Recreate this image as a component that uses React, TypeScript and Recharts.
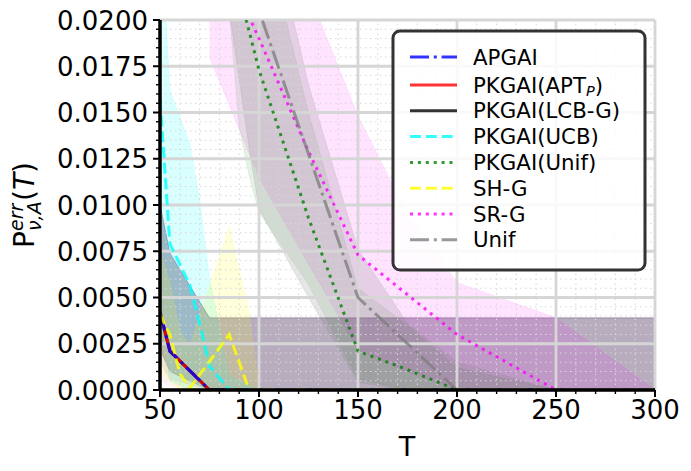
import React from 'react';
import { ComposedChart, Line, Area, XAxis, YAxis, ReferenceLine } from 'recharts';

const FONT = '"DejaVu Sans", Verdana, sans-serif';

// ---------- tick values / labels ----------
const xMajorTicks = [50, 100, 150, 200, 250, 300];
const xMinorTicks = [60, 70, 80, 90, 110, 120, 130, 140, 160, 170, 180, 190, 210, 220, 230, 240, 260, 270, 280, 290];
const yMajorTicks = [0, 0.0025, 0.005, 0.0075, 0.01, 0.0125, 0.015, 0.0175, 0.02];
const yTickLabels = ['0.0000', '0.0025', '0.0050', '0.0075', '0.0100', '0.0125', '0.0150', '0.0175', '0.0200'];
const yMinorTicks = Array.from({ length: 41 }, (_, k) => Number((k * 0.0005).toFixed(4))).filter(
  (v) => !yMajorTicks.some((m) => Math.abs(m - v) < 1e-9)
);

// ---------- series (T, mean, band low, band high) ----------
const apgaiT = [50, 55, 75, 100, 150, 200, 250, 300];
const apgaiMean = [0.0042, 0.0021, 0, 0, 0, 0, 0, 0];
const apgaiLow = [0.0015, 0.0006, 0, 0, 0, 0, 0, 0];
const apgaiHigh = [0.01, 0.0074, 0.0039, 0.0039, 0.0039, 0.0039, 0.0039, 0.0039];

const aptT = [50, 55, 75, 100, 150, 200, 250, 300];
const aptMean = [0.0042, 0.0021, 0, 0, 0, 0, 0, 0];
const aptLow = [0.0005, 0.0002, 0, 0, 0, 0, 0, 0];
const aptHigh = [0.0098, 0.0075, 0.0039, 0.0039, 0.0039, 0.0039, 0.0039, 0.0039];

const lcbT = [50, 55, 75, 100, 150, 200, 250, 300];
const lcbMean = [0.0042, 0.0021, 0, 0, 0, 0, 0, 0];
const lcbLow = [0.0022, 0.001, 0, 0, 0, 0, 0, 0];
const lcbHigh = [0.0101, 0.0074, 0.0039, 0.0039, 0.0039, 0.0039, 0.0039, 0.0039];

const ucbT = [50, 55, 65, 70, 75, 85, 100, 300];
const ucbMean = [0.0157, 0.0079, 0.0057, 0.0036, 0.0013, 0, 0, 0];
const ucbLow = [0.004, 0.0005, 0, 0, 0, 0, 0, 0];
const ucbHigh = [0.026, 0.0162, 0.0133, 0.0103, 0.006, 0.0008, 0, 0];

const pkUnifT = [75, 85, 90, 95, 100, 125, 150, 175, 200, 250, 300];
const pkUnifMean = [0.027, 0.0234, 0.0214, 0.0194, 0.0173, 0.0093, 0.0021, 0.0011, 0, 0, 0];
const pkUnifLow = [0.024, 0.0205, 0.0142, 0.0116, 0.0096, 0.0057, 0.0006, 0, 0, 0, 0];
const pkUnifHigh = [0.032, 0.03, 0.029, 0.028, 0.026, 0.015, 0.0055, 0.0035, 0.0012, 0, 0];

const shgT = [50, 55, 60, 65, 85, 95, 100, 300];
const shgMean = [0.0041, 0.003, 0.0009, 0.0001, 0.003, 0, 0, 0];
const shgLow = [0.001, 0.0005, 0, 0, 0, 0, 0, 0];
const shgHigh = [0.0075, 0.0058, 0.0032, 0.0024, 0.0088, 0.0042, 0, 0];

const srgT = [75, 100, 125, 150, 175, 200, 250, 300];
const srgMean = [0.0249, 0.019, 0.0129, 0.0073, 0.00515, 0.003, 0, 0];
const srgLow = [0.018, 0.0115, 0.0068, 0.0022, 0.001, 0, 0, 0];
const srgHigh = [0.034, 0.028, 0.0215, 0.0148, 0.0095, 0.0058, 0.0039, 0];

const unifT = [75, 85, 95, 100, 125, 150, 175, 200, 250, 300];
const unifMean = [0.028, 0.025, 0.022, 0.0205, 0.01275, 0.005, 0.0025, 0, 0, 0];
const unifLow = [0.026, 0.0205, 0.0131, 0.0098, 0.005, 0.0004, 0, 0, 0, 0];
const unifHigh = [0.04, 0.036, 0.031, 0.028, 0.0165, 0.0076, 0.0036, 0.0015, 0, 0];

const build = (T: number[], mean: number[], lo: number[], hi: number[]) =>
  T.map((t, i) => ({ T: t, mean: mean[i], band: [lo[i], hi[i]] }));

type Series = {
  key: string;
  color: string;
  dash?: string;
  bandOpacity: number;
  data: { T: number; mean: number; band: number[] }[];
};

const DASH = '11 4.8';
const DOT = '3 4.9';
const DASHDOT = '19 4.8 3 4.8';

// draw order (bottom -> top)
const drawOrder: Series[] = [
  { key: 'lcb', color: '#000000', bandOpacity: 0.23, data: build(lcbT, lcbMean, lcbLow, lcbHigh) },
  { key: 'apt', color: '#ff0000', bandOpacity: 0.045, data: build(aptT, aptMean, aptLow, aptHigh) },
  { key: 'apgai', color: '#0000ff', dash: DASHDOT, bandOpacity: 0.07, data: build(apgaiT, apgaiMean, apgaiLow, apgaiHigh) },
  { key: 'ucb', color: '#00ffff', dash: DASH, bandOpacity: 0.15, data: build(ucbT, ucbMean, ucbLow, ucbHigh) },
  { key: 'pkunif', color: '#008000', dash: DOT, bandOpacity: 0.1, data: build(pkUnifT, pkUnifMean, pkUnifLow, pkUnifHigh) },
  { key: 'shg', color: '#ffff00', dash: DASH, bandOpacity: 0.15, data: build(shgT, shgMean, shgLow, shgHigh) },
  { key: 'srg', color: '#ff00ff', dash: DOT, bandOpacity: 0.11, data: build(srgT, srgMean, srgLow, srgHigh) },
  { key: 'unif', color: '#808080', dash: DASHDOT, bandOpacity: 0.2, data: build(unifT, unifMean, unifLow, unifHigh) },
];

const legendItems = [
  { label: 'APGAI', color: '#0000ff', dash: DASHDOT },
  { label: 'PKGAI(APT', sub: 'P', color: '#ff0000', dash: undefined },
  { label: 'PKGAI(LCB-G)', color: '#000000', dash: undefined },
  { label: 'PKGAI(UCB)', color: '#00ffff', dash: DASH },
  { label: 'PKGAI(Unif)', color: '#008000', dash: DOT },
  { label: 'SH-G', color: '#ffff00', dash: DASH },
  { label: 'SR-G', color: '#ff00ff', dash: DOT },
  { label: 'Unif', color: '#808080', dash: DASHDOT },
];

const XTick = (props: any) => {
  const { x, y, payload } = props;
  const v = payload.value;
  const major = xMajorTicks.includes(v);
  return (
    <g>
      <line x1={x} x2={x} y1={y} y2={y + (major ? 7 : 4)} stroke="#000" strokeWidth={major ? 2 : 1.4} />
      {major && (
        <text x={x} y={y + 29} textAnchor="middle" fontSize={26} fontFamily={FONT} fill="#000">
          {v}
        </text>
      )}
    </g>
  );
};

const YTick = (props: any) => {
  const { x, y, payload } = props;
  const v = payload.value;
  const idx = yMajorTicks.findIndex((m) => Math.abs(m - v) < 1e-9);
  const major = idx >= 0;
  return (
    <g>
      <line x1={x} x2={x - (major ? 7 : 4)} y1={y} y2={y} stroke="#000" strokeWidth={major ? 2 : 1.4} />
      {major && (
        <text x={x - 12} y={y + 9.5} textAnchor="end" fontSize={26} fontFamily={FONT} fill="#000">
          {yTickLabels[idx]}
        </text>
      )}
    </g>
  );
};

const Overlay = () => {
  const lx = 393;
  const ly = 31;
  const lw = 252;
  const lh = 239;
  return (
    <svg width={691} height={471} style={{ position: 'absolute', left: 0, top: 0, pointerEvents: 'none' }}>
      {/* y label */}
      <g transform="translate(33.5, 248) rotate(-90)" fontFamily={FONT} fill="#000">
        <text x={0} y={0} fontSize={28}>P</text>
        <text x={17} y={-11} fontSize={19} fontStyle="italic">err</text>
        <text x={17} y={7} fontSize={19} fontStyle="italic">ν,A</text>
        <text x={47} y={0} fontSize={28}>
          (<tspan fontStyle="italic">T</tspan>)
        </text>
      </g>
      {/* x label */}
      <text x={407} y={456} textAnchor="middle" fontSize={27} fontFamily={FONT} fill="#000">
        T
      </text>
      {/* legend */}
      <rect x={lx} y={ly} width={lw} height={lh} rx={7} ry={7} fill="#fff" fillOpacity={0.85} stroke="#333" strokeWidth={3} />
      {legendItems.map((it, i) => {
        const cy = i === 0 ? 57 : 85 + (i - 1) * 25.8;
        return (
          <g key={it.label}>
            <line
              x1={410}
              x2={457}
              y1={cy}
              y2={cy}
              stroke={it.color}
              strokeOpacity={0.8}
              strokeWidth={3}
              strokeDasharray={it.dash}
            />
            <text x={473} y={cy + 7.6} fontSize={21.3} fontFamily={FONT} fill="#000">
              {it.label}
              {it.sub && (
                <>
                  <tspan fontSize={14.5} fontStyle="italic" dy={3}>
                    {it.sub}
                  </tspan>
                  <tspan dy={-3}>)</tspan>
                </>
              )}
            </text>
          </g>
        );
      })}
    </svg>
  );
};

const chartMargin = { top: 20, right: 36, bottom: 0, left: 0 };
const xDomain: [number, number] = [50, 300];
const yDomain: [number, number] = [0, 0.02];

export default function App() {
  const layer: React.CSSProperties = { position: 'absolute', left: 0, top: 0 };
  return (
    <div style={{ position: 'absolute', left: 0, top: 0, width: 691, height: 471, background: '#fff' }}>
      {/* layer 1: confidence bands */}
      <div style={layer}>
        <ComposedChart width={691} height={471} margin={chartMargin}>
          <XAxis dataKey="T" type="number" domain={xDomain} allowDataOverflow height={81} tick={false} axisLine={false} tickLine={false} />
          <YAxis type="number" domain={yDomain} allowDataOverflow width={160} tick={false} axisLine={false} tickLine={false} />
          {drawOrder.map((s) => (
            <Area
              key={'band-' + s.key}
              data={s.data}
              dataKey="band"
              type="linear"
              fill={s.color}
              fillOpacity={s.bandOpacity}
              stroke={s.color}
              strokeOpacity={s.bandOpacity * 0.8}
              strokeWidth={1}
              dot={false}
              activeDot={false}
              isAnimationActive={false}
            />
          ))}
        </ComposedChart>
      </div>
      {/* layer 2: grid, axes and mean curves */}
      <div style={layer}>
        <ComposedChart width={691} height={471} margin={chartMargin}>
          <XAxis
            dataKey="T"
            type="number"
            domain={xDomain}
            allowDataOverflow
            ticks={[...xMajorTicks, ...xMinorTicks].sort((a, b) => a - b)}
            interval={0}
            tickSize={0}
            tickMargin={0}
            tick={<XTick />}
            height={81}
            axisLine={{ stroke: '#000', strokeWidth: 3.5 }}
            tickLine={false}
          />
          <YAxis
            type="number"
            domain={yDomain}
            allowDataOverflow
            ticks={[...yMajorTicks, ...yMinorTicks].sort((a, b) => a - b)}
            interval={0}
            tickSize={0}
            tickMargin={0}
            tick={<YTick />}
            width={160}
            axisLine={{ stroke: '#000', strokeWidth: 3.5 }}
            tickLine={false}
          />
          {yMinorTicks.map((v) => (
            <ReferenceLine key={'hy' + v} y={v} stroke="#d8d8d8" strokeWidth={1.1} strokeDasharray="1.5 3.5" />
          ))}
          {xMinorTicks.map((v) => (
            <ReferenceLine key={'vx' + v} x={v} stroke="#d8d8d8" strokeWidth={1.1} strokeDasharray="1.5 3.5" />
          ))}
          {yMajorTicks.map((v) => (
            <ReferenceLine key={'Hy' + v} y={v} stroke="#d6d6d6" strokeWidth={2.8} />
          ))}
          {xMajorTicks.map((v) => (
            <ReferenceLine key={'Vx' + v} x={v} stroke="#d6d6d6" strokeWidth={2.8} />
          ))}
          {drawOrder.map((s) => (
            <Line
              key={'line-' + s.key}
              data={s.data}
              dataKey="mean"
              type="linear"
              stroke={s.color}
              strokeOpacity={0.8}
              strokeWidth={3}
              strokeDasharray={s.dash}
              dot={false}
              activeDot={false}
              isAnimationActive={false}
            />
          ))}
        </ComposedChart>
      </div>
      <Overlay />
    </div>
  );
}
